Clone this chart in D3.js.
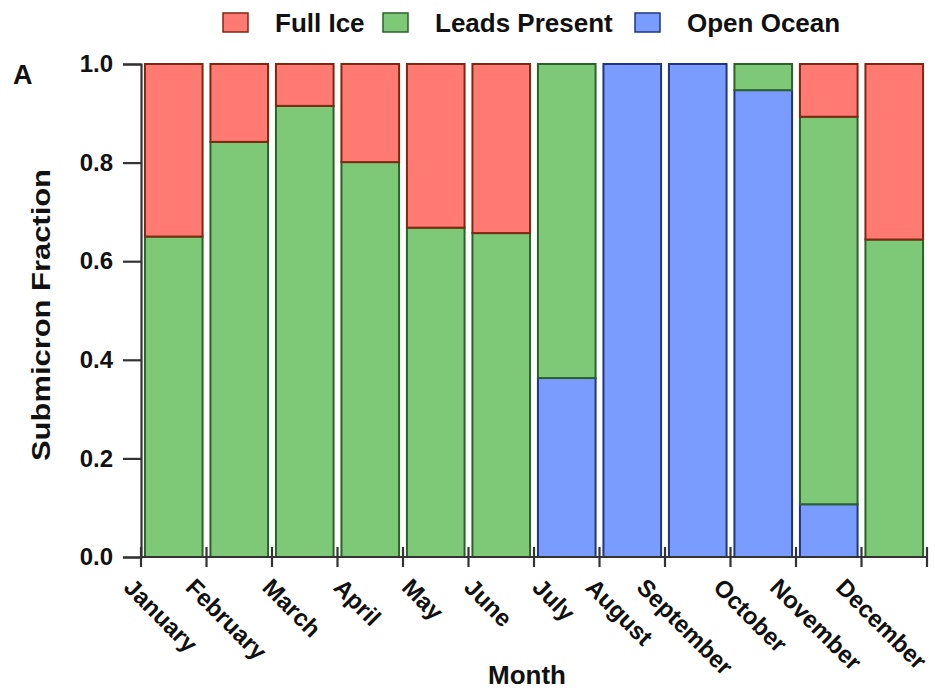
<!DOCTYPE html>
<html>
<head>
<meta charset="utf-8">
<script src="https://cdn.jsdelivr.net/npm/d3@7"></script>
<style>
  html, body { margin: 0; padding: 0; background: #ffffff; }
  svg { display: block; }
  text { font-family: "Liberation Sans", Arial, Helvetica, sans-serif; font-weight: bold; fill: #111; }
</style>
</head>
<body>
<script>
// ---- data ----
const months = ["January","February","March","April","May","June","July","August","September","October","November","December"];
const openOcean    = [0, 0, 0, 0, 0, 0, 0.363, 1.0, 1.0, 0.947, 0.107, 0];
const leadsPresent = [0.650, 0.842, 0.915, 0.801, 0.668, 0.657, 0.637, 0, 0, 0.053, 0.786, 0.644];
const fullIce      = [0.350, 0.158, 0.085, 0.199, 0.332, 0.343, 0, 0, 0, 0, 0.107, 0.356];
const seriesNames  = ["Open Ocean", "Leads Present", "Full Ice"];
const legendOrder  = ["Full Ice", "Leads Present", "Open Ocean"];
const yTicks = [0, 0.2, 0.4, 0.6, 0.8, 1.0];

const fills   = {"Full Ice": "#ff7a72", "Leads Present": "#7dc977", "Open Ocean": "#7b9cff"};
const strokes = {"Full Ice": "#7e2810", "Leads Present": "#2a622a", "Open Ocean": "#1f367e"};

const W = 935, H = 691;
const plotL = 141, plotR = 927, plotT = 64, plotB = 557;

const svg = d3.select("body").append("svg").attr("width", W).attr("height", H);

const rows = months.map((m, i) => ({
  month: m,
  "Open Ocean": openOcean[i],
  "Leads Present": leadsPresent[i],
  "Full Ice": fullIce[i]
}));
const stacked = d3.stack().keys(seriesNames)(rows);

const x = d3.scaleBand().domain(months).range([plotL, plotR]).paddingInner(0.12).paddingOuter(0.06);
const xEdge = d3.scaleBand().domain(months).range([plotL, plotR]).padding(0);
const y = d3.scaleLinear().domain([0, 1]).range([plotB, plotT]);

// bars
svg.append("g").selectAll("g").data(stacked).join("g")
  .attr("fill", d => fills[d.key])
  .attr("stroke", d => strokes[d.key])
  .attr("stroke-width", 2)
  .selectAll("rect").data(d => d.filter(p => p[1] - p[0] > 0)).join("rect")
  .attr("x", d => x(d.data.month))
  .attr("width", x.bandwidth())
  .attr("y", d => y(d[1]))
  .attr("height", d => y(d[0]) - y(d[1]));

// y axis
const yAxis = d3.axisLeft(y).tickValues(yTicks).tickFormat(d3.format(".1f")).tickSizeOuter(0).tickSize(18).tickPadding(10);
const gy = svg.append("g").attr("transform", `translate(${plotL},0)`).call(yAxis);
gy.select(".domain").attr("stroke", "#333").attr("stroke-width", 2.2);
gy.selectAll(".tick line").attr("stroke", "#333").attr("stroke-width", 2.2);
gy.selectAll(".tick text").style("font-size", "24px").attr("fill", "#111");

// x axis: line + crossing ticks at band edges
const edges = months.map(m => xEdge(m)).concat([plotR]);
const gx = svg.append("g");
gx.append("line").attr("x1", plotL).attr("x2", plotR).attr("y1", plotB).attr("y2", plotB)
  .attr("stroke", "#333").attr("stroke-width", 2.2);
gx.selectAll("line.tk").data(edges).join("line").attr("class", "tk")
  .attr("x1", d => d).attr("x2", d => d).attr("y1", plotB - 10).attr("y2", plotB + 10)
  .attr("stroke", "#333").attr("stroke-width", 2.2);

// rotated month labels (top-centered rotated bbox at edge + 20)
const fsX = 24;
months.forEach(m => {
  const t = gx.append("text").text(m).style("font-size", fsX + "px")
    .attr("text-anchor", "middle").attr("dominant-baseline", "central");
  const L = t.node().getComputedTextLength();
  const h = fsX * 0.8;
  const cx = xEdge(m) + 20;
  const cy = plotB + 19 + (L + h) * Math.SQRT1_2 / 2;
  t.attr("transform", `translate(${cx},${cy}) rotate(45)`);
});

// axis titles
svg.append("text").text("Month").attr("x", 527).attr("y", 684)
  .attr("text-anchor", "middle").style("font-size", "26px");
svg.append("text").text("Submicron Fraction")
  .attr("transform", `translate(50,315) rotate(-90)`)
  .attr("text-anchor", "middle").style("font-size", "26px")
  .attr("textLength", 292).attr("lengthAdjust", "spacingAndGlyphs");

// panel label
svg.append("text").text("A").attr("x", 13).attr("y", 84).style("font-size", "27px");

// legend
const legendX = [223, 383, 635];
const lg = svg.append("g");
legendOrder.forEach((k, i) => {
  lg.append("rect").attr("x", legendX[i]).attr("y", 13).attr("width", 25).attr("height", 19)
    .attr("fill", fills[k]).attr("stroke", strokes[k]).attr("stroke-width", 1.5);
  lg.append("text").text(k).attr("x", legendX[i] + 52).attr("y", 32).style("font-size", "26px");
});
</script>
</body>
</html>
